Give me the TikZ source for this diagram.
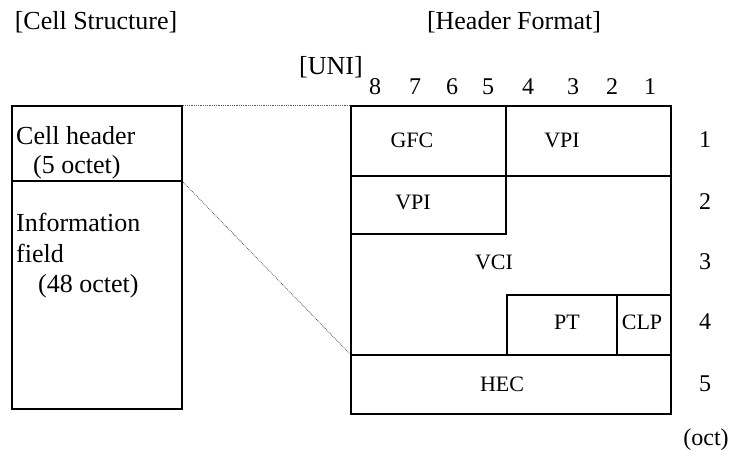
\documentclass[tikz,border=0pt]{standalone}
\usepackage{fontspec}
\setmainfont{Liberation Serif}

\begin{document}
\begin{tikzpicture}[x=1pt,y=-1pt]
\tikzstyle{every node}=[inner sep=0pt, font=\fontsize{22}{24}\selectfont]
\tikzstyle{box}=[draw, line width=2.3pt, anchor=north west]
\tikzstyle{big}=[font=\fontsize{26}{28}\selectfont]
\tikzstyle{celltext}=[anchor=base west, font=\fontsize{26}{28}\selectfont]
\tikzstyle{num}=[font=\fontsize{24}{26}\selectfont]
\tikzstyle{link}=[line width=0.8pt, densely dotted, black!65]
\useasboundingbox (0,0) rectangle (731,465);

% titles
\node[big] (tcell) at (96,22) {[Cell Structure]};
\node[big] (thdr) at (514,22) {[Header Format]};
\node[big] (tuni) at (331,67) {[UNI]};

% cell structure
\node[box, minimum width=170pt, minimum height=303pt] (cell) at (11,105) {};
\node[box, minimum width=170pt, minimum height=75pt] (hdr) at (11,105) {};
\node[celltext] (hdrtxt) at (16,145) {Cell header};
\node[celltext] (hdroct) at (33,174) {(5 octet)};
\node[celltext] (inftxt) at (16,232) {Information};
\node[celltext] (inffld) at (16,262) {field};
\node[celltext] (infoct) at (38,292) {(48 octet)};

% header format
\node[box, minimum width=320pt, minimum height=308pt] (frame) at (350,105) {};
\node[box, minimum width=155pt, minimum height=70pt] (gfc) at (350,105) {};
\node[box, minimum width=165pt, minimum height=70pt] (vpia) at (505,105) {};
\node[box, minimum width=155pt, minimum height=58pt] (vpib) at (350,175) {};
\node[box, minimum width=110pt, minimum height=60pt] (pt) at (506,294) {};
\node[box, minimum width=54pt, minimum height=60pt] (clp) at (616,294) {};
\node[box, minimum width=320pt, minimum height=59pt] (hec) at (350,354) {};

\node (gfctxt) at (412,140) {GFC};
\node (vpiatxt) at (562,140) {VPI};
\node (vpibtxt) at (413,202) {VPI};
\node (vcitxt) at (494,262) {VCI};
\node (pttxt) at (567,322) {PT};
\node (clptxt) at (642,322) {CLP};
\node (hectxt) at (502,384) {HEC};

% bit and octet numbers
\foreach \b/\x in {8/375,7/415,6/452,5/488,4/528,3/573,2/612,1/650}
  \node[num] (bit\b) at (\x,87) {\b};
\foreach \r/\y in {1/140,2/202,3/262,4/322,5/384}
  \node[num] (oct\r) at (705,\y) {\r};
\node[num] (octunit) at (706,440) {(oct)};

\draw[link] (hdr.north east) -- (frame.north west);
\draw[link] (hdr.south east) -- (hec.north west);
\end{tikzpicture}
\end{document}
